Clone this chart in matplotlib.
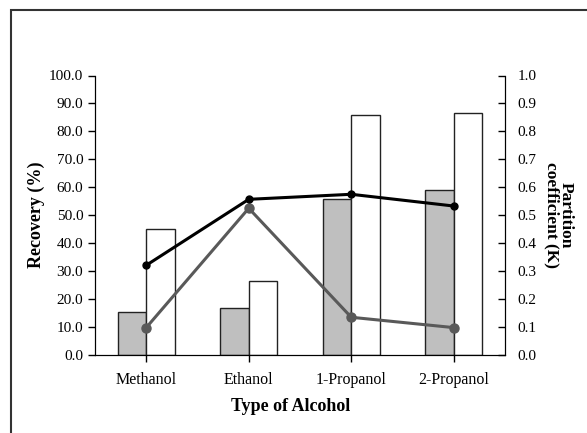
import numpy as np
import matplotlib
matplotlib.use("Agg")
import matplotlib.pyplot as plt
from matplotlib.patches import Rectangle

plt.rcParams['font.family'] = ['Liberation Serif', 'DejaVu Serif']

alcohols = ["Methanol", "Ethanol", "1-Propanol", "2-Propanol"]
recovery_grey = [15.3, 16.7, 55.7, 59.0]
recovery_white = [45.1, 26.4, 85.9, 86.7]
k_black = [0.321, 0.557, 0.575, 0.533]
k_grey = [0.098, 0.525, 0.135, 0.098]

fig = plt.figure(figsize=(5.87, 4.33), dpi=100)
ax = fig.add_axes([95/587, 1-355/433, 410/587, (355-75.5)/433])
x = np.arange(len(alcohols))
w = 0.28

ax.bar(x - w/2, recovery_grey, w, color="#bfbfbf", edgecolor="#222222", linewidth=1)
ax.bar(x + w/2, recovery_white, w, color="white", edgecolor="#222222", linewidth=1)
ax.set_xlim(-0.5, 3.5)
ax.set_ylim(0, 100)
ax.set_yticks(np.arange(0, 101, 10))
ax.set_yticklabels([f"{v:.1f}" for v in np.arange(0, 101, 10)], fontsize=11)
ax.set_xticks(x)
ax.set_xticklabels(alcohols, fontsize=11.5)
ax.set_ylabel("Recovery (%)", fontsize=13, fontweight="bold", labelpad=3)
ax.set_xlabel("Type of Alcohol", fontsize=13, fontweight="bold")
ax.xaxis.set_label_coords(0.478, -0.155)
ax.spines["top"].set_visible(False)
ax.tick_params(axis="both", direction="out", length=5, width=1)
ax.tick_params(axis="x", pad=7)

ax2 = ax.twinx()
ax2.plot(x, k_black, color="black", linewidth=2.2, marker="o", markersize=5, zorder=4)
ax2.plot(x, k_grey, color="#595959", linewidth=2.2, marker="o", markersize=6.5, zorder=3)
ax2.set_ylim(0, 1)
ax2.set_yticks(np.arange(0, 1.01, 0.1))
ax2.set_yticklabels([f"{v:.1f}" for v in np.arange(0, 1.01, 0.1)], fontsize=11)
ax2.tick_params(axis="y", direction="in", length=5, width=1, pad=9)
ax2.spines["top"].set_visible(False)
ax2.set_ylabel("Partition\ncoefficient (K)", fontsize=12.5, fontweight="bold",
               rotation=-90, labelpad=27, linespacing=0.9)

fig.patches.append(Rectangle((11/587, -0.05), 1.1, 1 - 10/433 + 0.05,
                             transform=fig.transFigure, fill=False,
                             edgecolor="#333333", linewidth=1.5))

fig.savefig("out.png", dpi=100)
